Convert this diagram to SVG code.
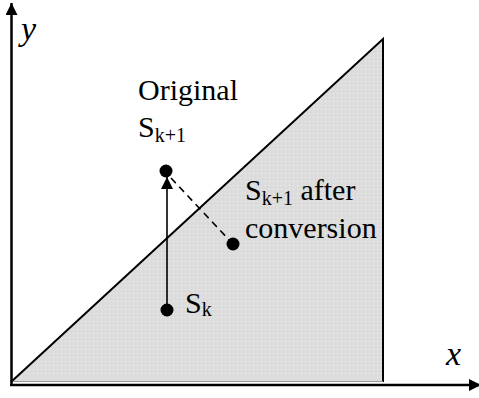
<svg xmlns="http://www.w3.org/2000/svg" width="479" height="398" viewBox="0 0 479 398">
<style>
.t{font-size:30px;fill:#000}
.sub{font-size:20px}
.it{font-style:italic;font-size:34px;fill:#000}
.ax{stroke:#000;stroke-width:2.5;fill:none}
.ln{stroke:#000;stroke-width:1.6;fill:none}
.dot{fill:#000}
</style>
<defs>
<pattern id="dots" width="4" height="4" patternUnits="userSpaceOnUse">
<rect width="4" height="4" fill="#dcdcdc"/>
<rect x="1" y="1" width="1" height="1" fill="#eeeeee"/>
</pattern>
<marker id="ah" viewBox="0 0 12 12" refX="12" refY="6" markerWidth="12" markerHeight="12" markerUnits="userSpaceOnUse" orient="auto">
<path d="M0,0 L12,6 L0,12 Z" fill="#000"/>
</marker>
</defs>
<g id="region">
<polygon points="11,381 383,39 383,381" fill="url(#dots)"/>
<polyline points="11,382 383,39 383,382" fill="none" stroke="#000" stroke-width="2"/>
<line x1="11" y1="381.5" x2="383" y2="381.5" stroke="#999" stroke-width="1"/>
</g>
<g id="axes" font-family="Liberation Serif, serif">
<line class="ax" x1="11.5" y1="386" x2="11.5" y2="3" marker-end="url(#ah)"/>
<line class="ax" x1="10" y1="385" x2="481" y2="385" marker-end="url(#ah)"/>
<text class="it" x="21" y="40">y</text>
<text class="it" x="446" y="365">x</text>
</g>
<g id="connectors">
<line class="ln" x1="167" y1="310" x2="167" y2="177" marker-end="url(#ah)"/>
<line class="ln" x1="171" y1="178" x2="232" y2="243" stroke-dasharray="7,5"/>
</g>
<g id="node-original" font-family="Liberation Serif, serif">
<circle class="dot" cx="166" cy="171" r="6.5"/>
<text class="t" x="138" y="100">Original</text>
<text class="t" x="138" y="137">S<tspan class="sub" dy="5">k+1</tspan></text>
</g>
<g id="node-converted" font-family="Liberation Serif, serif">
<circle class="dot" cx="233" cy="244" r="6.5"/>
<text class="t" x="245" y="200">S<tspan class="sub" dy="5">k+1</tspan><tspan dy="-5"> after</tspan></text>
<text class="t" x="245" y="238">conversion</text>
</g>
<g id="node-sk" font-family="Liberation Serif, serif">
<circle class="dot" cx="167" cy="310" r="6.5"/>
<text class="t" x="185" y="313">S<tspan class="sub" dy="3">k</tspan></text>
</g>
</svg>
